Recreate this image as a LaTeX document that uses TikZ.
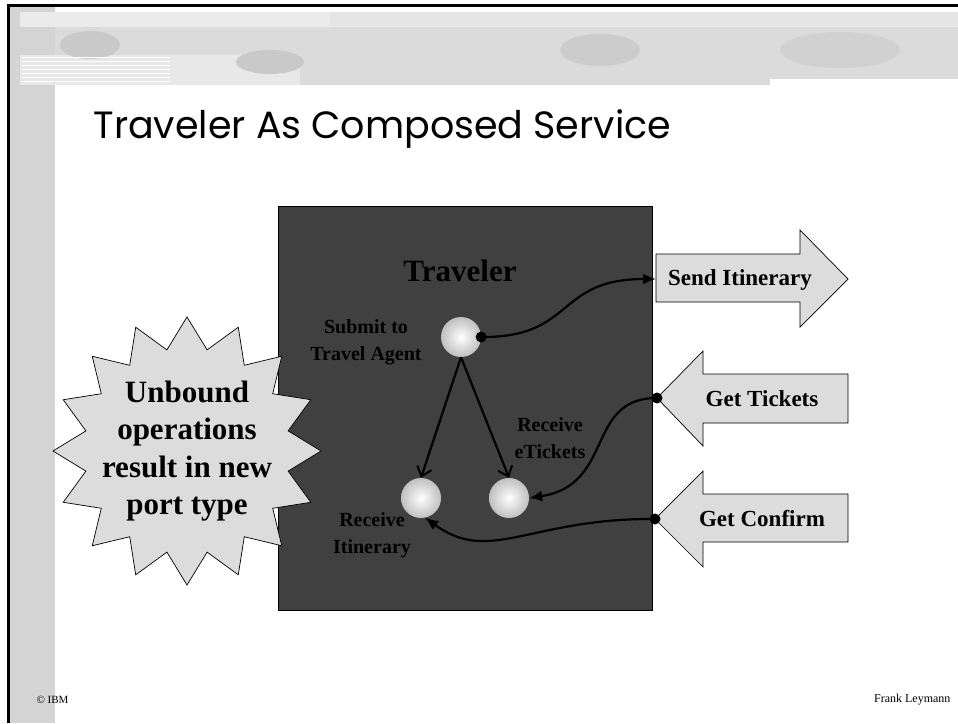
\documentclass[tikz,border=0pt]{standalone}
\usepackage{fontspec}
\setmainfont{Liberation Serif}
\newfontfamily\titlefont{Poppins}
\usetikzlibrary{arrows.meta,shapes.geometric}
\definecolor{boxgray}{HTML}{404040}
\definecolor{panelgray}{HTML}{DCDCDC}
\definecolor{stripgray}{HTML}{D4D4D4}
\begin{document}
\begin{tikzpicture}
  [x=1pt,y=-1pt,
   every node/.style={text=black},
   sphere/.style={circle,minimum size=40pt,inner sep=0pt,inner color=white,outer color=gray!50},
   tag/.style={align=center,font=\bfseries\fontsize{20}{27}\selectfont},
   arrowtext/.style={font=\bfseries\fontsize{23}{26}\selectfont},
   panel/.style={fill=panelgray,draw=black,line width=0.7pt},
   link/.style={line width=2.2pt,-{Latex[length=13pt,width=11pt]}},
   fork/.style={line width=2.2pt,-{Straight Barb[length=9pt,width=15pt,line width=2pt]}},
   dot/.style={circle,fill=black,inner sep=0pt,minimum size=11pt}]
  \useasboundingbox (0,0) rectangle (958,723);
  % slide background
  \fill[white] (0,0) rectangle (958,723);
  \fill[stripgray] (9,6) rectangle (55,723);
  \fill[gray!16] (20,12) rectangle (958,27);
  \fill[gray!28] (55,27) rectangle (958,85);
  \fill[gray!18] (20,55) rectangle (300,85);
  \fill[gray!42] (90,45) ellipse (30 and 14);
  \fill[gray!42] (270,62) ellipse (34 and 12);
  \fill[gray!40] (600,50) ellipse (40 and 16);
  \fill[gray!36] (840,50) ellipse (60 and 18);
  \fill[gray!20] (330,12) rectangle (958,26);
  \foreach \y in {57,61,...,81}
    \draw[white,line width=0.8pt] (22,\y) -- (170,\y);
  \fill[white] (770,79) rectangle (958,86);
  \draw[line width=3pt] (958,5) -- (8,5) -- (8,723);
  \node[anchor=base west,font=\titlefont\fontsize{38}{44}\selectfont] (title) at (90,138) {Traveler As Composed Service};

  % composed service
  \node[draw=black,fill=boxgray,minimum width=374pt,minimum height=404pt,inner sep=0pt,anchor=north west] (box) at (278,206) {};
  \node[font=\bfseries\fontsize{31}{34}\selectfont] (traveler) at (460,271) {Traveler};
  \node[sphere] (submit) at (461,337) {};
  \node[sphere] (itin) at (421,498) {};
  \node[sphere] (etix) at (509,498) {};
  \node[tag] at (366,342) {Submit to\\Travel Agent};
  \node[tag] at (550,438) {Receive\\eTickets};
  \node[tag] at (372,535) {Receive\\Itinerary};

  % port arrows
  \draw[panel] (656,254) -- (800,254) -- (800,230) -- (848,279) -- (800,327) -- (800,302) -- (656,302) -- cycle;
  \draw[panel] (657,398) -- (703,351) -- (703,374) -- (848,374) -- (848,423) -- (703,423) -- (703,446) -- cycle;
  \draw[panel] (655,519) -- (703,471) -- (703,494) -- (848,494) -- (848,542) -- (703,542) -- (703,567) -- cycle;
  \node[arrowtext] (send) at (740,280) {Send Itinerary};
  \node[arrowtext] (tickets) at (762,399) {Get Tickets};
  \node[arrowtext] (confirm) at (762,519) {Get Confirm};
  \coordinate (sendTail) at (656,279);
  \coordinate (ticketsTip) at (657,398);
  \coordinate (confirmTip) at (655,519);

  % connectors
  \node[dot] (submitDot) at (submit.east) {};
  \draw[link] (submitDot.center) .. controls (575,338) and (555,279) .. (sendTail);
  \draw[fork] (submit.south) -- (itin.north);
  \draw[fork] (submit.south) -- (etix.north);
  \node[dot] (ticketsDot) at (ticketsTip) {};
  \draw[link] (ticketsDot.center) .. controls (585,398) and (615,485) .. (etix.east);
  \node[dot] (confirmDot) at (confirmTip) {};
  \draw[link] (confirmDot.center) .. controls (530,518) and (490,565) .. (itin.-78);

  % callout
  \node[star,star points=16,star point ratio=1.3,minimum size=268pt,inner sep=0pt,fill=panelgray,draw=black,line width=0.7pt] (burst) at (187,451) {};
  \node[align=center,font=\bfseries\fontsize{31}{37.5}\selectfont] (unbound) at (burst) {Unbound\\operations\\result in new\\port type};

  % footer
  \node[font=\fontsize{11}{12}\selectfont,anchor=west] (ibm) at (33,700) {© IBM};
  \node[font=\fontsize{12}{13}\selectfont,anchor=east] (author) at (954,700) {Frank Leymann};
\end{tikzpicture}
\end{document}
